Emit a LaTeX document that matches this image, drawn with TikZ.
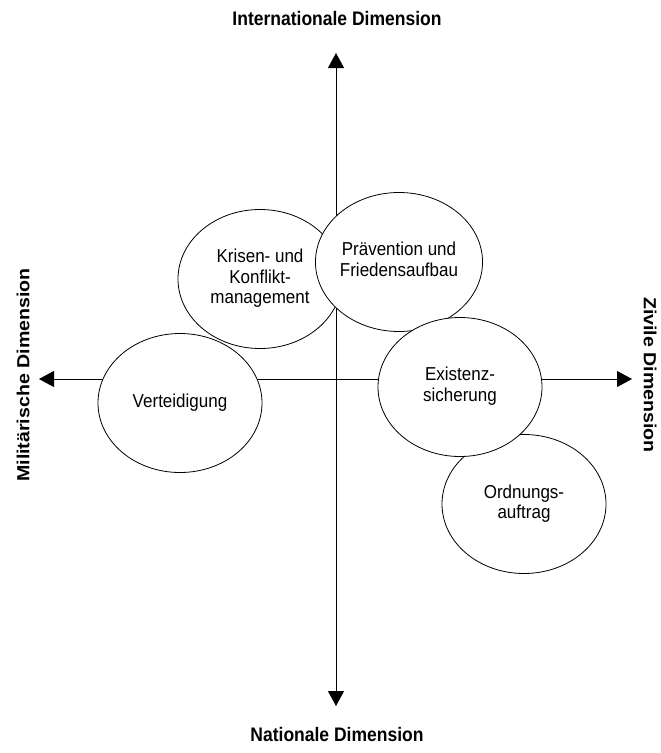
\documentclass[tikz,border=0pt]{standalone}
\usepackage{fontspec}
\setmainfont{Liberation Sans}
\usepackage{graphicx}
\usetikzlibrary{arrows.meta,shapes.geometric}

% slightly tall lettering, as in the original chart
\newcommand\tallreg[1]{\scalebox{1}[1.1]{#1}}
\newcommand\tallbold[1]{\scalebox{1}[1.12]{#1}}
\newcommand\widebold[1]{\scalebox{1.12}[1]{#1}}
\newcommand\bubbletext[1]{\tallreg{\begin{tabular}{@{}c@{}}#1\end{tabular}}}

\begin{document}
\begin{tikzpicture}[x=1pt,y=-1pt,
  bubble/.style={ellipse, draw, fill=white, line width=0.8pt,
    minimum width=164pt, minimum height=139pt, inner sep=0pt,
    font=\fontsize{17}{18.2}\selectfont},
  axis/.style={line width=1pt,
    {Triangle[length=15pt,width=16pt]}-{Triangle[length=15pt,width=16pt]}},
  dimlabel/.style={font=\bfseries\fontsize{17.5}{20}\selectfont, inner sep=0pt}]

\useasboundingbox (0,0) rectangle (661,753);

% axis end points
\coordinate (north) at (336,53);
\coordinate (south) at (336,706);
\coordinate (west) at (39,379);
\coordinate (east) at (632,379);

\draw[axis] (south) -- (north);
\draw[axis] (west) -- (east);

% dimension labels
\node[dimlabel] (intl) at (337,18) {\tallbold{Internationale Dimension}};
\node[dimlabel] (natl) at (337,734) {\tallbold{Nationale Dimension}};
\node[dimlabel, rotate=90] (mil) at (23,375) {\widebold{Militärische Dimension}};
\node[dimlabel, rotate=-90] (ziv) at (650,375) {\widebold{Zivile Dimension}};

% task areas, back to front
\node[bubble] (krisen) at (260,279) {\bubbletext{Krisen- und\\Konflikt-\\management}};
\node[bubble] (praev) at (399,262) {\bubbletext{Prävention und\\Friedensaufbau}};
\node[bubble] (ordn) at (524,504) {\bubbletext{Ordnungs-\\auftrag}};
\node[bubble] (exist) at (460,387) {\bubbletext{Existenz-\\sicherung}};
\node[bubble] (vert) at (180,403) {\bubbletext{Verteidigung}};

\end{tikzpicture}
\end{document}
